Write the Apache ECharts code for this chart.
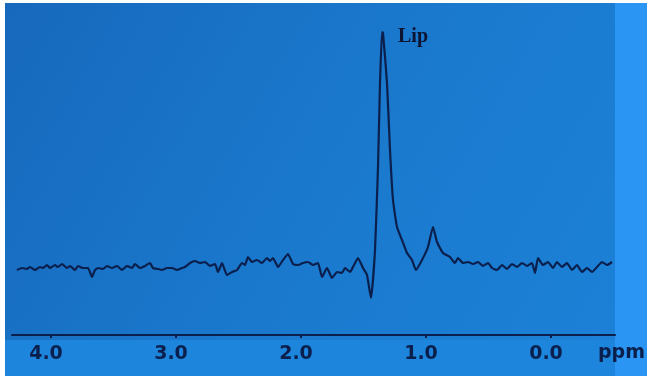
<!DOCTYPE html>
<html>
<head>
<meta charset="utf-8">
<script src="https://cdn.jsdelivr.net/npm/echarts@6/dist/echarts.min.js"></script>
<style>
  html, body { margin: 0; padding: 0; background: #ffffff; }
  #main { width: 647px; height: 376px; }
</style>
</head>
<body>
<div id="main"></div>
<script>
var ppmValues = [
  4.272, 4.232, 4.192, 4.168, 4.128, 4.088, 4.064, 4.032, 4.008, 3.968,
  3.944, 3.912, 3.872, 3.848, 3.808, 3.784, 3.744, 3.704, 3.672, 3.648,
  3.624, 3.584, 3.552, 3.512, 3.472, 3.432, 3.392, 3.352, 3.328, 3.288,
  3.248, 3.208, 3.184, 3.144, 3.112, 3.072, 3.032, 2.992, 2.952, 2.928,
  2.888, 2.848, 2.808, 2.768, 2.728, 2.688, 2.664, 2.632, 2.592, 2.552,
  2.512, 2.472, 2.448, 2.424, 2.392, 2.352, 2.312, 2.272, 2.248, 2.224,
  2.184, 2.144, 2.104, 2.064, 2.024, 1.984, 1.944, 1.904, 1.864, 1.832,
  1.792, 1.752, 1.712, 1.672, 1.648, 1.608, 1.584, 1.544, 1.504, 1.472,
  1.440, 1.408, 1.384, 1.368, 1.352, 1.344, 1.312, 1.288, 1.264, 1.232,
  1.192, 1.152, 1.112, 1.080, 1.032, 0.984, 0.944, 0.912, 0.864, 0.808,
  0.768, 0.744, 0.704, 0.664, 0.624, 0.584, 0.544, 0.504, 0.472, 0.432,
  0.392, 0.352, 0.312, 0.272, 0.232, 0.192, 0.152, 0.128, 0.104, 0.064,
  0.024, -0.016, -0.048, -0.088, -0.128, -0.168, -0.208, -0.248, -0.288, -0.328,
  -0.368, -0.408, -0.448, -0.488
];

// signal amplitude (arbitrary units, baseline = 0)
var amplitude = [
  -3, -1, -2, 0, -3, 0, -1, 2, -1, 2,
  0, 3, -1, 1, -3, 1, -1, -1, -10, -3,
  -1, -2, 1, -1, 1, -3, 1, -1, 3, -1,
  1, 4, -1, -2, -3, -1, -1, -3, -1, 0,
  4, 6, 4, 5, 1, 3, -5, 4, -8, -5,
  -3, 4, 2, 10, 5, 7, 4, 9, 6, 9,
  0, 7, 13, 3, 2, 4, 5, 2, 4, -10,
  -1, -11, -5, -6, -1, -5, 0, 9, -1, -8,
  -31, 17, 100, 184, 235, 234, 184, 117, 67, 40,
  27, 14, 7, -3, 7, 20, 40, 25, 14, 10,
  4, 9, 4, 5, 3, 5, 1, 4, -1, -3,
  2, -2, 3, 0, 4, 1, 4, -6, 9, 2,
  5, -1, 5, 0, 4, -3, 2, -5, -1, -5,
  0, 5, 2, 5
];

var tickValues = [0, 1, 2, 3, 4];
var peakName = "Lip";
var peakPpm = 1.352;
var peakAmp = 235;

var chartDom = document.getElementById("main");
var myChart = echarts.init(chartDom, null, { renderer: "canvas" });

var traceData = ppmValues.map(function (p, i) {
  return [p, amplitude[i]];
});

var inkColor = "#0b1f4d";
var labelFont = "'DejaVu Sans', Verdana, sans-serif";

var option = {
  animation: false,
  backgroundColor: "#ffffff",
  graphic: [
    {
      type: "rect",
      z: -10,
      shape: { x: 5, y: 3, width: 642, height: 373 },
      style: {
        fill: new echarts.graphic.LinearGradient(0, 0, 1, 1, [
          { offset: 0, color: "#1769bd" },
          { offset: 0.5, color: "#1a79cd" },
          { offset: 1, color: "#1c82d8" }
        ])
      }
    },
    {
      type: "rect",
      z: -9,
      shape: { x: 5, y: 340, width: 610, height: 36 },
      style: { fill: "#1d86dc" }
    },
    {
      type: "rect",
      z: -9,
      shape: { x: 615, y: 3, width: 32, height: 373 },
      style: { fill: "#2a95f2" }
    },
    {
      type: "text",
      left: 598,
      top: 344,
      style: {
        text: "ppm",
        fill: inkColor,
        font: "bold 19px " + labelFont
      }
    }
  ],
  grid: {
    left: 12,
    right: 32,
    top: 3,
    bottom: 41,
    containLabel: false
  },
  xAxis: {
    type: "value",
    inverse: true,
    min: -0.512,
    max: 4.312,
    axisLine: {
      onZero: false,
      lineStyle: { color: inkColor, width: 2 }
    },
    axisTick: {
      customValues: tickValues,
      length: 3,
      lineStyle: { color: inkColor, width: 2 }
    },
    axisLabel: {
      customValues: tickValues,
      margin: 10,
      padding: [0, 10, 0, 0],
      color: inkColor,
      fontSize: 19,
      fontWeight: "bold",
      fontFamily: labelFont,
      formatter: function (v) {
        return v.toFixed(1);
      }
    },
    splitLine: { show: false }
  },
  yAxis: {
    type: "value",
    min: -68,
    max: 264,
    show: false
  },
  series: [
    {
      type: "line",
      data: traceData,
      showSymbol: false,
      smooth: 0.15,
      lineStyle: { color: inkColor, width: 2.2 },
      markPoint: {
        symbol: "circle",
        symbolSize: 0,
        data: [{ coord: [peakPpm, peakAmp] }],
        label: {
          show: true,
          formatter: peakName,
          offset: [31, 5],
          color: "#0d1330",
          fontSize: 20,
          fontWeight: "bold",
          fontFamily: "'Liberation Serif', 'Times New Roman', serif"
        }
      }
    }
  ]
};

myChart.setOption(option);
</script>
</body>
</html>
